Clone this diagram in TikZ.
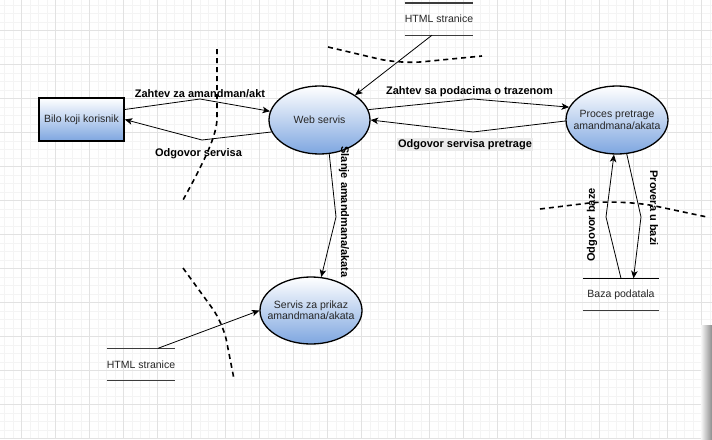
\documentclass[tikz,border=0pt]{standalone}
\usepackage{fontspec}
\setmainfont{Liberation Sans}
\usetikzlibrary{shapes.geometric,arrows.meta}
\definecolor{bluefill}{RGB}{126,166,224}
\definecolor{gridmaj}{RGB}{226,226,226}
\definecolor{gridmin}{RGB}{244,244,244}
\definecolor{storeline}{RGB}{60,60,60}
\begin{document}
\begin{tikzpicture}[x=1pt,y=-1pt,
  procnode/.style={ellipse, draw=black, line width=1.3pt, top color=white, bottom color=bluefill,
    minimum width=101pt, minimum height=68pt, inner sep=0pt},
  proctext/.style={align=center, inner sep=0pt, font=\fontsize{10.5}{11.5}\selectfont, text=black!85},
  entity/.style={rectangle, draw=black, line width=1.5pt, top color=white, bottom color=bluefill,
    minimum width=85pt, minimum height=43pt, inner sep=0pt,
    font=\fontsize{10.5}{12}\selectfont, text=black!85},
  store/.style={rectangle, inner sep=0pt, font=\fontsize{10.5}{12}\selectfont, text=black!85},
  flow/.style={draw=black, line width=0.8pt, -{Stealth[length=7.5pt,width=6.5pt,inset=2pt]}},
  flowlabel/.style={font=\bfseries\fontsize{11}{12}\selectfont, inner sep=1pt},
  boundary/.style={draw=black, line width=1.6pt, dash pattern=on 5pt off 4pt},
  storeedge/.style={draw=storeline, line width=1.4pt}
]
\useasboundingbox (0,0) rectangle (712,439);
\fill[white] (0,0) rectangle (712,439);
% grid
\foreach \i in {0,...,83} { \draw[gridmin, line width=0.8pt] ({4.5+8.5*\i},0) -- ({4.5+8.5*\i},439); }
\foreach \i in {0,...,52} { \draw[gridmin, line width=0.8pt] (0,{5+8.5*\i}) -- (712,{5+8.5*\i}); }
\foreach \i in {0,...,20} { \draw[gridmaj, line width=1pt] ({21.5+34*\i},0) -- ({21.5+34*\i},439); }
\foreach \i in {0,...,12} { \draw[gridmaj, line width=1pt] (0,{30.5+34*\i}) -- (712,{30.5+34*\i}); }
% scrollbar shadow
\shade[left color=black!3, right color=black!45] (701,325) rectangle (712,439);

% trust boundaries
\draw[boundary] (217,49) -- (217,118) .. controls (217,135) and (205,160) .. (183,200);
\draw[boundary, rounded corners=22pt] (328,47) -- (400,64) -- (482,56);
\draw[boundary, rounded corners=35pt] (540,209) -- (622,199) -- (707,217);
\draw[boundary, rounded corners=18pt] (183,268) -- (223,323) -- (234,379);

% nodes
\node[entity] (user) at (81.5,119.5) {Bilo koji korisnik};
\node[procnode] (web) at (319.5,120) {};
\node[proctext] (webtext) at (web.center) {Web servis};
\node[procnode, minimum width=102pt] (search) at (617,120) {};
\node[proctext] (searchtext) at (search.center) {Proces pretrage\\amandmana/akata};
\node[procnode, minimum width=102pt, minimum height=67pt] (show) at (311,310.5) {};
\node[proctext, font=\fontsize{10.5}{11}\selectfont] (showtext) at (show.center) {Servis za prikaz\\amandmana/akata};
\node[store, minimum width=68pt, minimum height=32pt] (html1) at (439,19) {HTML stranice};
\node[store, minimum width=68pt, minimum height=32pt] (html2) at (141,364.5) {HTML stranice};
\node[store, minimum width=76pt, minimum height=31.5pt] (db) at (621,294.3) {Baza podatala};
\draw[storeedge] (html1.north west) -- (html1.north east);
\draw[storeedge] (html1.south west) -- (html1.south east);
\draw[storeedge] (html2.north west) -- (html2.north east);
\draw[storeedge] (html2.south west) -- (html2.south east);
\draw[storeedge, draw=black] (db.north west) -- (db.north east);
\draw[storeedge] (db.south west) -- (db.south east);

% flows
\draw[flow] ([yshift=10pt]user.east) -- (200,99) -- (web.170);
\draw[flow] (web.194) -- (202,140) -- (user.east);
\draw[flow] (web.12) -- (473,99) -- (search.165);
\draw[flow] ([yshift=-1pt]search.west) -- (473,132) -- (web.east);
\draw[flow] ([xshift=-7pt]html1.south) -- (web.35);
\draw[flow] (web.286) -- (336,217) -- (show.73);
\draw[flow] (db.north) -- (606,217) -- (search.265);
\draw[flow] (search.286) -- (641,217) -- ([xshift=12.5pt]db.north);
\draw[flow] ([xshift=17pt]html2.north) -- (show.west);

% labels
\node[flowlabel] (l1) at (200,93.5) {Zahtev za amandman/akt};
\node[flowlabel] (l2) at (198.5,154) {Odgovor servisa};
\node[flowlabel] (l3) at (469.5,92) {Zahtev sa podacima o trazenom};
\node[flowlabel, fill=black!8, inner sep=1.5pt] (l4) at (465,144.5) {Odgovor servisa pretrage};
\node[flowlabel, rotate=-90] (l5) at (344,212) {Slanje amandmana/akata};
\node[flowlabel, rotate=90] (l6) at (592,225) {Odgovor baze};
\node[flowlabel, rotate=-90] (l7) at (654,208) {Provera u bazi};
\end{tikzpicture}
\end{document}
